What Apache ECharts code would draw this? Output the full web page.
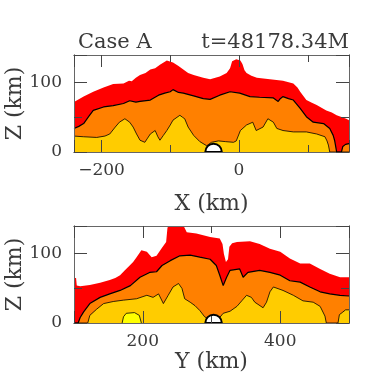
<!DOCTYPE html>
<html style="height: 100%">
<head>
    <meta charset="utf-8">
    <title>Case A</title>
    <script src="https://cdn.jsdelivr.net/npm/echarts@6/dist/echarts.min.js"></script>
</head>
<body style="height: 100%; margin: 0; background: #fff">
    <div id="main" style="width: 374px; height: 374px"></div>
    <script type="text/javascript">
        // contour boundaries, [position km, Z km]
        var topRed = [[-240,72],[-226,80],[-212,87],[-197,93],[-183,98],[-168,99],[-160,103],[-156,102],[-150,107],[-144,111],[-136,114],[-129,119],[-122,121],[-115,126],[-105,132],[-96,129],[-88,124],[-81,119],[-74,114],[-66,111],[-52,107],[-42,105],[-28,109],[-18,114],[-13,121],[-10,131],[-4,134],[2,132],[5,127],[8,118],[11,114],[18,110],[26,107],[45,105],[64,103],[79,99],[85,93],[89,87],[98,75],[106,71],[113,68],[127,60],[135,57],[142,53],[150,50],[156,48],[160,46]];
        var topOrange = [[-240,34],[-233,37],[-226,41],[-218,52],[-212,60],[-197,65],[-183,67],[-168,70],[-159,74],[-150,72],[-144,73],[-129,75],[-124,78],[-117,82],[-108,85],[-100,87],[-96,90],[-88,86],[-81,85],[-66,81],[-52,77],[-42,76],[-28,82],[-13,87],[1,85],[16,80],[30,79],[50,78],[54,75],[57,73],[60,77],[64,80],[72,77],[79,75],[89,63],[98,51],[108,43],[123,41],[132,34],[137,24],[139,17],[141,6],[142,0],[149,0],[151,8],[155,11],[160,12]];
        var topGold = [[-240,23],[-226,22],[-207,21],[-195,23],[-188,26],[-180,36],[-174,43],[-166,48],[-159,43],[-154,36],[-149,26],[-144,17],[-137,14],[-133,20],[-129,26],[-122,31],[-118,22],[-115,17],[-110,24],[-105,31],[-100,39],[-96,46],[-86,53],[-82,50],[-79,48],[-74,36],[-66,24],[-57,15],[-47,9],[-40,14],[-30,16],[-20,15],[-8,14],[-4,16],[2,31],[11,39],[20,43],[25,31],[35,36],[42,48],[50,43],[55,34],[64,31],[79,29],[98,29],[113,26],[125,22],[128,16],[130,10],[132,0],[160,0]];
        var botRed = [[100,65],[103,65],[104,54],[109,53],[123,55],[138,58],[152,62],[160,65],[167,69],[174,76],[181,83],[186,88],[191,95],[198,105],[206,103],[213,95],[220,97],[227,107],[234,117],[236,138],[240,141],[259,141],[264,131],[278,129],[298,124],[312,122],[316,114],[318,100],[321,88],[324,92],[326,110],[330,115],[337,117],[356,118],[370,114],[385,107],[400,103],[414,93],[429,86],[443,86],[458,78],[472,71],[487,66],[500,66]];
        var botOrange = [[100,0],[106,0],[109,8],[114,16],[123,28],[138,37],[152,42],[167,47],[182,54],[196,66],[210,73],[220,74],[228,83],[240,90],[254,97],[269,98],[283,95],[298,92],[307,83],[312,69],[317,54],[322,66],[327,76],[341,78],[346,66],[353,73],[370,76],[385,73],[400,69],[414,61],[429,59],[443,52],[458,45],[472,42],[487,40],[500,39]];
        var botGold = [[100,0],[120,0],[123,11],[133,20],[143,28],[157,31],[172,33],[191,35],[206,40],[215,37],[223,42],[230,28],[237,40],[244,52],[252,57],[257,50],[261,35],[269,30],[276,25],[283,18],[290,9],[295,6],[312,8],[317,14],[327,17],[337,24],[344,32],[351,40],[358,37],[363,30],[375,22],[380,30],[385,45],[390,52],[404,47],[419,40],[433,32],[448,30],[458,24],[465,10],[467,0],[484,0],[486,12],[490,15],[495,19],[500,19]];
        var botYellow = [[170,0],[172,9],[176,14],[188,15],[195,11],[198,0]];
        // the hole at the base: centre and radius (km)
        var topHole = [[-37, 0, 12]];
        var botHole = [[303, 0, 12]];
        var xRange = [-240, 160], yRange = [100, 500], zRange = [0, 140];
        var xLabels = [-200, 0], yLabels = [200, 400], zLabels = [0, 100];

        var font = 'DejaVu Serif';
        var frame = '#666';
        var ink = '#3a3a3a';

        function hAxes(g, range, labels, name, nameGap) {
            var list = [];
            ['bottom', 'top'].forEach(function (pos) {
                [2, 4].forEach(function (split) {
                    var major = split === 2;
                    var ax = {
                        gridIndex: g, type: 'value', position: pos, min: range[0], max: range[1],
                        splitNumber: split, z: 10,
                        axisLine: { show: true, onZero: false, lineStyle: { color: frame, width: 1 } },
                        axisTick: { show: true, inside: true, length: major ? 12 : 7, lineStyle: { color: '#444', width: 1 } },
                        splitLine: { show: false },
                        axisLabel: { show: false }
                    };
                    if (pos === 'bottom' && major) {
                        ax.axisLabel = {
                            show: true, margin: 10, fontFamily: font, fontSize: 17, color: ink,
                            formatter: function (v) { return labels.indexOf(v) >= 0 ? String(v).replace('-', '\u2212') : ''; }
                        };
                        ax.name = name;
                        ax.nameLocation = 'middle';
                        ax.nameGap = nameGap;
                        ax.nameTextStyle = { fontFamily: font, fontSize: 22, color: ink };
                    }
                    list.push(ax);
                });
            });
            return list;
        }

        function vAxes(g) {
            var list = [];
            ['left', 'right'].forEach(function (pos) {
                [100, 50].forEach(function (step) {
                    var major = step === 100;
                    var ax = {
                        gridIndex: g, type: 'value', position: pos, min: zRange[0], max: zRange[1],
                        interval: step, z: 10,
                        axisLine: { show: true, onZero: false, lineStyle: { color: frame, width: 1 } },
                        axisTick: { show: true, inside: true, length: major ? 13 : 8, lineStyle: { color: '#444', width: 1 } },
                        splitLine: { show: false },
                        axisLabel: { show: false }
                    };
                    if (pos === 'left' && major) {
                        ax.axisLabel = {
                            show: true, margin: 12, fontFamily: font, fontSize: 17, color: ink,
                            formatter: function (v) { return zLabels.indexOf(v) >= 0 ? String(v) : ''; }
                        };
                        ax.name = 'Z (km)';
                        ax.nameLocation = 'middle';
                        ax.nameGap = 48;
                        ax.nameMoveOverlap = false;
                        ax.nameTextStyle = { fontFamily: font, fontSize: 22, color: ink };
                    }
                    list.push(ax);
                });
            });
            return list;
        }

        function area(g, data, color, lineW, z) {
            return {
                type: 'line', xAxisIndex: g * 4, yAxisIndex: g * 4, data: data,
                symbol: 'none', showSymbol: false, smooth: false, clip: true, silent: true, z: z,
                lineStyle: { color: '#000', width: lineW, opacity: lineW ? 1 : 0 },
                areaStyle: { color: color, opacity: 1 }
            };
        }

        function hole(g, data) {
            return {
                type: 'custom', xAxisIndex: g * 4, yAxisIndex: g * 4, data: data, clip: true, silent: true, z: 8,
                renderItem: function (params, api) {
                    var c = api.coord([api.value(0), api.value(1)]);
                    var r = api.size([api.value(2), 0])[0];
                    return {
                        type: 'sector',
                        shape: { cx: c[0], cy: c[1], r0: 0, r: r, startAngle: Math.PI, endAngle: 2 * Math.PI, clockwise: true },
                        style: { fill: '#fff', stroke: '#000', lineWidth: 2 }
                    };
                }
            };
        }

        var myChart = echarts.init(document.getElementById('main'), null, { renderer: 'canvas' });

        var option = {
            animation: false,
            backgroundColor: '#fff',
            title: [
                { text: 'Case A', left: 78, top: 32, padding: 0, textStyle: { fontFamily: font, fontSize: 21, fontWeight: 'normal', color: ink } },
                { text: 't=48178.34M', right: 25, top: 32, padding: 0, textStyle: { fontFamily: font, fontSize: 21, fontWeight: 'normal', color: ink } }
            ],
            grid: [
                { left: 74, top: 55, width: 275, height: 97, containLabel: false, outerBoundsMode: 'none' },
                { left: 74, top: 226, width: 275, height: 97, containLabel: false, outerBoundsMode: 'none' }
            ],
            xAxis: hAxes(0, xRange, xLabels, 'X (km)', 41).concat(hAxes(1, yRange, yLabels, 'Y (km)', 27)),
            yAxis: vAxes(0).concat(vAxes(1)),
            series: [
                area(0, topRed, '#ff0000', 0, 2),
                area(0, topOrange, '#ff8000', 1.2, 3),
                area(0, topGold, '#ffcc00', 0.8, 4),
                hole(0, topHole),
                area(1, botRed, '#ff0000', 0, 2),
                area(1, botOrange, '#ff8000', 1.2, 3),
                area(1, botGold, '#ffcc00', 0.8, 4),
                area(1, botYellow, '#ffff00', 0.8, 5),
                hole(1, botHole)
            ]
        };
        myChart.setOption(option);
    </script>
</body>
</html>
